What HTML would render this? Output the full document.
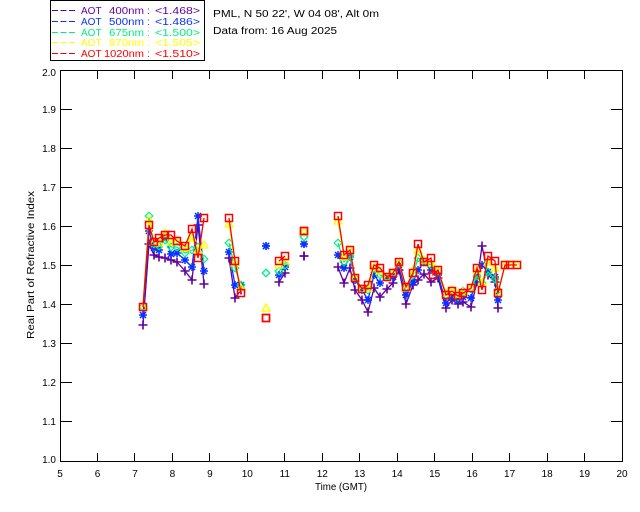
<!DOCTYPE html>
<html>
<head>
<meta charset="utf-8">
<style>
html,body{margin:0;padding:0;background:#fff;}
svg{display:block;}
text{font-family:"Liberation Sans",Arial,sans-serif;}
</style>
</head>
<body>
<svg width="640" height="512" viewBox="0 0 640 512" xmlns="http://www.w3.org/2000/svg">
<defs>
<marker id="mp" markerUnits="userSpaceOnUse" markerWidth="12" markerHeight="12" refX="6" refY="6" orient="0" overflow="visible">
<path d="M1.5 6H10.5M6 1.5V10.5" stroke="#5f00a0" stroke-width="1.6" fill="none"/>
</marker>
<marker id="mb" markerUnits="userSpaceOnUse" markerWidth="12" markerHeight="12" refX="6" refY="6" orient="0" overflow="visible">
<path d="M2 6H10M6 2V10M3 3L9 9M3 9L9 3" stroke="#0a32ff" stroke-width="1.5" fill="none"/>
</marker>
<marker id="mg" markerUnits="userSpaceOnUse" markerWidth="12" markerHeight="12" refX="6" refY="6" orient="0" overflow="visible">
<path d="M6 2.2L9.8 6L6 9.8L2.2 6Z" stroke="#00f080" stroke-width="1.2" fill="none"/>
</marker>
<marker id="my" markerUnits="userSpaceOnUse" markerWidth="12" markerHeight="12" refX="6" refY="6" orient="0" overflow="visible">
<path d="M6 2L10 9L2 9Z" stroke="#ffff00" stroke-width="1.3" fill="none"/>
</marker>
<marker id="mr" markerUnits="userSpaceOnUse" markerWidth="12" markerHeight="12" refX="6" refY="6" orient="0" overflow="visible">
<rect x="2.5" y="2.5" width="7" height="7" stroke="#ff0000" stroke-width="1.5" fill="none"/>
</marker>
</defs>

<!-- Legend box -->
<rect x="50.5" y="0.5" width="154" height="60" fill="none" stroke="#000" stroke-width="1"/>
<g stroke-width="1" stroke-dasharray="6,2.5">
<line x1="52" y1="10.5" x2="75" y2="10.5" stroke="#5f00a0"/>
<line x1="52" y1="21.5" x2="75" y2="21.5" stroke="#0a32ff"/>
<line x1="52" y1="32.5" x2="75" y2="32.5" stroke="#00f080"/>
<line x1="52" y1="42.5" x2="75" y2="42.5" stroke="#ffff00"/>
<line x1="52" y1="53.5" x2="75" y2="53.5" stroke="#ff0000"/>
</g>
<g font-size="10">
<g fill="#5f00a0"><text x="81" y="14">AOT</text><text x="109" y="14" textLength="35" lengthAdjust="spacingAndGlyphs">400nm</text><text x="147" y="14">:</text><text x="155" y="14" textLength="45" lengthAdjust="spacingAndGlyphs">&lt;1.468&gt;</text></g>
<g fill="#0a32ff"><text x="81" y="25">AOT</text><text x="109" y="25" textLength="35" lengthAdjust="spacingAndGlyphs">500nm</text><text x="147" y="25">:</text><text x="155" y="25" textLength="45" lengthAdjust="spacingAndGlyphs">&lt;1.486&gt;</text></g>
<g fill="#00f080"><text x="81" y="36">AOT</text><text x="109" y="36" textLength="35" lengthAdjust="spacingAndGlyphs">675nm</text><text x="147" y="36">:</text><text x="155" y="36" textLength="45" lengthAdjust="spacingAndGlyphs">&lt;1.500&gt;</text></g>
<g fill="#ffff00"><text x="81" y="46">AOT</text><text x="109" y="46" textLength="35" lengthAdjust="spacingAndGlyphs">870nm</text><text x="147" y="46">:</text><text x="155" y="46" textLength="45" lengthAdjust="spacingAndGlyphs">&lt;1.505&gt;</text></g>
<g fill="#ff0000"><text x="81" y="57">AOT</text><text x="104" y="57" textLength="40" lengthAdjust="spacingAndGlyphs">1020nm</text><text x="147" y="57">:</text><text x="155" y="57" textLength="45" lengthAdjust="spacingAndGlyphs">&lt;1.510&gt;</text></g>
</g>
<text x="213" y="17" font-size="10" fill="#000" textLength="166" lengthAdjust="spacingAndGlyphs">PML, N 50 22', W 04 08', Alt 0m</text>
<text x="213" y="34" font-size="10" fill="#000" textLength="124" lengthAdjust="spacingAndGlyphs">Data from: 16 Aug 2025</text>

<!-- Axes -->
<g stroke="#000" stroke-width="1" fill="none" shape-rendering="crispEdges">
<rect x="60.5" y="70.5" width="562" height="391"/>
<path d="M97.5 461V453M134.5 461V453M172.5 461V453M209.5 461V453M247.5 461V453M284.5 461V453M322.5 461V453M359.5 461V453M397.5 461V453M434.5 461V453M472.5 461V453M509.5 461V453M547.5 461V453M584.5 461V453
M97.5 71V79M134.5 71V79M172.5 71V79M209.5 71V79M247.5 71V79M284.5 71V79M322.5 71V79M359.5 71V79M397.5 71V79M434.5 71V79M472.5 71V79M509.5 71V79M547.5 71V79M584.5 71V79"/>
<path d="M61 109.5H72M61 148.5H72M61 187.5H72M61 226.5H72M61 265.5H72M61 304.5H72M61 343.5H72M61 382.5H72M61 421.5H72
M622 109.5H611M622 148.5H611M622 187.5H611M622 226.5H611M622 265.5H611M622 304.5H611M622 343.5H611M622 382.5H611M622 421.5H611"/>
</g>

<!-- Tick labels -->
<g font-size="10" fill="#000" text-anchor="middle">
<text x="60" y="477">5</text><text x="97.5" y="477">6</text><text x="135" y="477">7</text><text x="172.4" y="477">8</text><text x="209.9" y="477">9</text><text x="247.3" y="477">10</text><text x="284.8" y="477">11</text><text x="322.3" y="477">12</text><text x="359.7" y="477">13</text><text x="397.2" y="477">14</text><text x="434.7" y="477">15</text><text x="472.1" y="477">16</text><text x="509.6" y="477">17</text><text x="547.1" y="477">18</text><text x="584.5" y="477">19</text><text x="622" y="477">20</text>
</g>
<g font-size="10" fill="#000" text-anchor="end">
<text x="56" y="76">2.0</text><text x="56" y="113">1.9</text><text x="56" y="152">1.8</text><text x="56" y="191">1.7</text><text x="56" y="230">1.6</text><text x="56" y="269">1.5</text><text x="56" y="308">1.4</text><text x="56" y="347">1.3</text><text x="56" y="386">1.2</text><text x="56" y="425">1.1</text><text x="56" y="463">1.0</text>
</g>
<text x="341" y="490" font-size="10" text-anchor="middle" fill="#000" textLength="52" lengthAdjust="spacingAndGlyphs">Time (GMT)</text>
<text transform="translate(34,265) rotate(-90)" font-size="10" text-anchor="middle" fill="#000" textLength="148" lengthAdjust="spacingAndGlyphs">Real Part of Refractive Index</text>

<!-- Series: purple 400 -->
<g fill="none" stroke="#5f00a0" stroke-width="1.3" marker-start="url(#mp)" marker-mid="url(#mp)" marker-end="url(#mp)">
<polyline points="143,325 149,244 154,255 159,257 165,258 171,260 177,262 185,271 192,280 198,225 204,284"/>
<polyline points="229,258 235,298 241,290"/>
<polyline points="279,282 285,273"/>
<polyline points="304,256 304,256" stroke="none"/>
<polyline points="338,267 344,283 350,268 355,290 362,300 368,312 374,288 380,297 387,289 393,283 399,270 406,304 413,285 418,280 424,274 431,282 438,278 446,308 452,300 458,304 463,302 471,307 477,282 482,246 488,275 495,282 498,308"/>
</g>
<!-- blue 500 -->
<g fill="none" stroke="#0a32ff" stroke-width="1.3" marker-start="url(#mb)" marker-mid="url(#mb)" marker-end="url(#mb)">
<polyline points="143,315 149,231 154,248 159,250 165,236 171,254 177,253 185,260 192,267 198,216 204,271"/>
<polyline points="229,252 235,285 241,285"/>
<polyline points="266,246 266,246" stroke="none"/>
<polyline points="279,275 285,267"/>
<polyline points="304,244 304,244" stroke="none"/>
<polyline points="338,255 344,268 350,257 355,280 362,290 368,300 374,275 380,283 387,277 393,277 399,265 406,295 413,282 418,270 424,262 431,270 438,275 446,303 452,297 458,300 463,297 471,298 477,277 482,265 488,272 495,277 498,300"/>
</g>
<!-- green 675 -->
<g fill="none" stroke="#00f080" stroke-width="1.2" marker-start="url(#mg)" marker-mid="url(#mg)" marker-end="url(#mg)">
<polyline points="143,307 149,216 154,244 159,246 165,240 171,247 177,247 185,253 192,250 198,247 204,259"/>
<polyline points="229,243 235,268 241,285"/>
<polyline points="266,273 266,273" stroke="none"/>
<polyline points="279,271 285,265"/>
<polyline points="304,237 304,237" stroke="none"/>
<polyline points="338,243 344,262 350,256 355,278 362,289 368,290 374,268 380,275 387,277 393,273 399,263 406,287 413,275 418,258 424,262 431,265 438,271 446,295 452,290 458,297 463,291 471,289 477,276 482,283 488,272 495,279 498,290"/>
</g>
<!-- yellow 870 -->
<g fill="none" stroke="#ffff00" stroke-width="1.3" marker-start="url(#my)" marker-mid="url(#my)" marker-end="url(#my)">
<polyline points="143,307 149,220 154,242 159,243 165,233 171,242 177,241 185,248 192,238 198,250 204,245"/>
<polyline points="229,224 235,263 241,288"/>
<polyline points="266,308 266,308" stroke="none"/>
<polyline points="279,265 285,261"/>
<polyline points="304,232 304,232" stroke="none"/>
<polyline points="338,221 344,257 350,250 355,278 362,289 368,288 374,267 380,271 387,277 393,273 399,263 406,288 413,270 418,250 424,260 431,263 438,270 446,293 452,290 458,294 463,292 471,288 477,270 482,283 488,262 495,268 498,292 505,265 510,265 517,265"/>
</g>
<!-- red 1020 -->
<g fill="none" stroke="#ff0000" stroke-width="1.3" marker-start="url(#mr)" marker-mid="url(#mr)" marker-end="url(#mr)">
<polyline points="143,307 149,225 154,242 159,238 165,235 171,235 177,241 185,246 192,229 198,258 204,218"/>
<polyline points="229,218 235,261 241,293"/>
<polyline points="266,318 266,318" stroke="none"/>
<polyline points="279,261 285,256"/>
<polyline points="304,231 304,231" stroke="none"/>
<polyline points="338,216 344,255 350,250 355,278 362,289 368,285 374,265 380,268 387,277 393,273 399,262 406,287 413,273 418,244 424,262 431,258 433,275 438,270 446,295 452,291 458,296 463,293 471,288 477,268 482,290 488,256 495,261 498,293 505,265 510,265 517,265"/>
</g>
</svg>
</body>
</html>
